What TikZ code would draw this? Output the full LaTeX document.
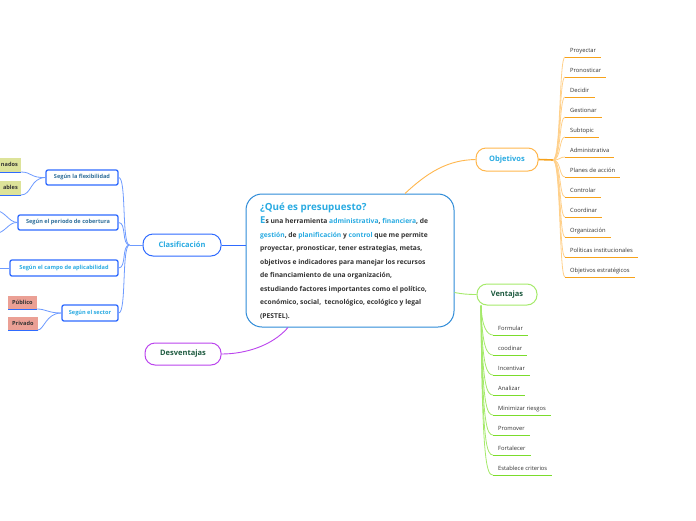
\documentclass[tikz,border=0pt]{standalone}
\usepackage{fontspec}
\usetikzlibrary{calc}
\setmainfont{Open Sans}
\definecolor{tblue}{HTML}{29ABE2}
\definecolor{cborder}{HTML}{2E8BD8}
\definecolor{clb}{HTML}{2F6BFF}
\definecolor{clbl}{HTML}{6E9BFF}
\definecolor{dteal}{HTML}{2F6F9A}
\definecolor{orgb}{HTML}{FFB74D}
\definecolor{orgl}{HTML}{FFD08A}
\definecolor{orgd}{HTML}{F7A21B}
\definecolor{grnb}{HTML}{A5EA6A}
\definecolor{grnd}{HTML}{7BDC2C}
\definecolor{dgreen}{HTML}{1D5A3F}
\definecolor{purp}{HTML}{BB44EE}
\definecolor{olivef}{HTML}{DDE39A}
\definecolor{salm}{HTML}{EBA095}
\definecolor{itemc}{HTML}{333333}
\tikzset{
  topicbox/.style={draw, line width=1pt, fill=white, rounded corners=10pt, font=\fontsize{7.5}{9}\selectfont\bfseries, inner sep=0pt},
  subbox/.style={draw=clb, line width=1.3pt, fill=white, rounded corners=2pt, font=\fontsize{5.6}{7}\selectfont\bfseries, inner sep=0pt},
  item/.style={anchor=south west, inner xsep=5pt, inner ysep=2.5pt, text height=5pt, text depth=1.5pt, font=\fontsize{5.8}{7}\selectfont, text=itemc},
  leafbox/.style={anchor=south west, inner xsep=4pt, minimum height=13pt, font=\fontsize{5.6}{7}\selectfont\bfseries, text=itemc},
  conn/.style={line width=0.9pt},
}
\begin{document}
\begin{tikzpicture}[x=1pt,y=-1pt]
\clip (0,0) rectangle (696,520);
\fill[white] (0,0) rectangle (696,520);

% central
\node[draw=cborder, line width=1pt, rounded corners=16pt, minimum width=208pt, minimum height=133pt, fill=white] (c) at (350,260.5) {};
\node[anchor=north west, inner sep=0pt, font=\fontsize{9.8}{11}\selectfont\bfseries, text=tblue] (ctitle) at (260,203) {¿Qué es presupuesto?};
\node[anchor=north west, inner sep=0pt, align=left, font=\fontsize{6.7}{13.5}\selectfont\bfseries, text=itemc] (ctext) at (260,217)
{{\fontsize{9.5}{9}\selectfont\textcolor{tblue}{E}}s una herramienta \textcolor{tblue}{administrativa}, \textcolor{tblue}{financiera}, de\\
\textcolor{tblue}{gestión}, de \textcolor{tblue}{planificación} y \textcolor{tblue}{control} que me permite\\
proyectar, pronosticar, tener estrategias, metas,\\
objetivos e indicadores para manejar los recursos\\
de financiamiento de una organización,\\
estudiando factores importantes como el político,\\
económico, social,\ \ tecnológico, ecológico y legal\\
(PESTEL).};

% main topics
\node[topicbox, draw=orgb, text=tblue, minimum width=62pt, minimum height=23pt] (obj) at (507,159.5) {Objetivos};
\node[topicbox, draw=grnb, text=dgreen, minimum width=60pt, minimum height=21pt] (ven) at (507,294.5) {Ventajas};
\node[topicbox, draw=purp, text=dgreen, minimum width=76pt, minimum height=22pt] (des) at (183,354) {Desventajas};
\node[topicbox, draw=clb, text=tblue, minimum width=78pt, minimum height=22pt] (cla) at (182,245) {Clasificación};

% connectors from central
\draw[conn, orgb] ([xshift=55pt]c.north) .. controls (428,172) and (448,160) .. (obj.west);
\draw[conn, grnb] ([yshift=-32pt]c.east) .. controls (462,294) and (468,294.5) .. (ven.west);
\draw[conn, purp] (des.east) .. controls (245,354) and (272,346) .. ([xshift=-62pt]c.south);
\draw[conn, clb] (cla.east) -- (c.west |- cla.east);

% Objetivos fan
\coordinate (of) at (553,160);
\draw[orgd, line width=1.6pt] (obj.east) -- (of);
\foreach \t [count=\i from 0] in {Proyectar,Pronosticar,Decidir,Gestionar,Subtopic,Administrativa,Planes de acción,Controlar,Coordinar,Organización,Políticas institucionales,Objetivos estratégicos}{
  \pgfmathsetmacro{\yu}{57+20*\i}
  \node[item] (o\i) at (565,\yu) {\t};
  \draw[orgl, line width=0.8pt] (of) .. controls (561,160) and (559,\yu) .. (o\i.south west);
  \draw[orgd, line width=1pt] (o\i.south west) -- (o\i.south east);
}

% Ventajas fan
\coordinate (vf) at ([xshift=-26pt]ven.south);
\foreach \t [count=\i from 0] in {Formular,coodinar,Incentivar,Analizar,Minimizar riesgos,Promover,Fortalecer,Establece criterios}{
  \pgfmathsetmacro{\yu}{335+20*\i}
  \node[item] (v\i) at (493,\yu) {\t};
  \draw[grnb, line width=0.8pt] (vf) .. controls (482,\yu-8) and (487,\yu) .. (v\i.south west);
  \draw[grnd, line width=1pt] (v\i.south west) -- (v\i.south east);
}

% Clasificacion fan
\coordinate (cf) at ([xshift=-13pt]cla.west);
\draw[conn, clbl] (cla.west) -- (cf);
\node[subbox, text=dteal, minimum width=72pt, minimum height=15pt] (s1) at (82,177.5) {Según la flexibilidad};
\node[subbox, text=dteal, minimum width=100pt, minimum height=15pt] (s2) at (68,222.5) {Según el periodo de cobertura};
\node[subbox, text=tblue, minimum width=108pt, minimum height=16pt] (s3) at (64,268) {Según el campo de aplicabilidad};
\node[subbox, text=tblue, minimum width=56pt, minimum height=16pt] (s4) at (90,313) {Según el sector};
\foreach \s in {s1,s2,s3,s4}{
  \draw[clbl, line width=0.8pt] (cf) .. controls ($(cf)+(-8,0)$) and ($(\s.east)+(8,0)$) .. (\s.east);
}

% flexibility leaves
\node[anchor=south east, fill=olivef, text width=40pt, align=right, inner xsep=3pt, minimum height=14pt, font=\fontsize{5.6}{7}\selectfont\bfseries, text=itemc] (k1) at (21,172) {nados};
\node[anchor=south east, fill=olivef, text width=40pt, align=right, inner xsep=3pt, minimum height=14pt, font=\fontsize{5.6}{7}\selectfont\bfseries, text=itemc] (k2) at (21,195) {ables};
\draw[clb, line width=1pt] (k1.south west) -- (k1.south east);
\draw[clb, line width=1pt] (k2.south west) -- (k2.south east);
\draw[clbl, line width=0.8pt] (s1.west) .. controls (30,178) and (32,172) .. (k1.south east);
\draw[clbl, line width=0.8pt] (s1.west) .. controls (30,178) and (32,195) .. (k2.south east);

% periodo lines going off canvas
\coordinate (pa) at (-6,210);
\coordinate (pb) at (-6,234);
\draw[clbl, line width=0.8pt] (s2.west) .. controls (8,222) and (6,211) .. (pa);
\draw[clbl, line width=0.8pt] (s2.west) .. controls (8,222) and (6,233) .. (pb);

% campo line off canvas
\coordinate (pc) at (-6,268);
\draw[clbl, line width=0.8pt] (s3.west) -- (pc);

% sector leaves
\node[leafbox, fill=salm] (p1) at (8,309) {Público};
\node[leafbox, fill=salm] (p2) at (8,330) {Privado};
\draw[clb, line width=1pt] (p1.south west) -- (p1.south east);
\draw[clb, line width=1pt] (p2.south west) -- (p2.south east);
\draw[clbl, line width=0.8pt] (s4.west) .. controls (48,313) and (46,309) .. (p1.south east);
\draw[clbl, line width=0.8pt] (s4.west) .. controls (46,313) and (44,330) .. (p2.south east);
\end{tikzpicture}
\end{document}
